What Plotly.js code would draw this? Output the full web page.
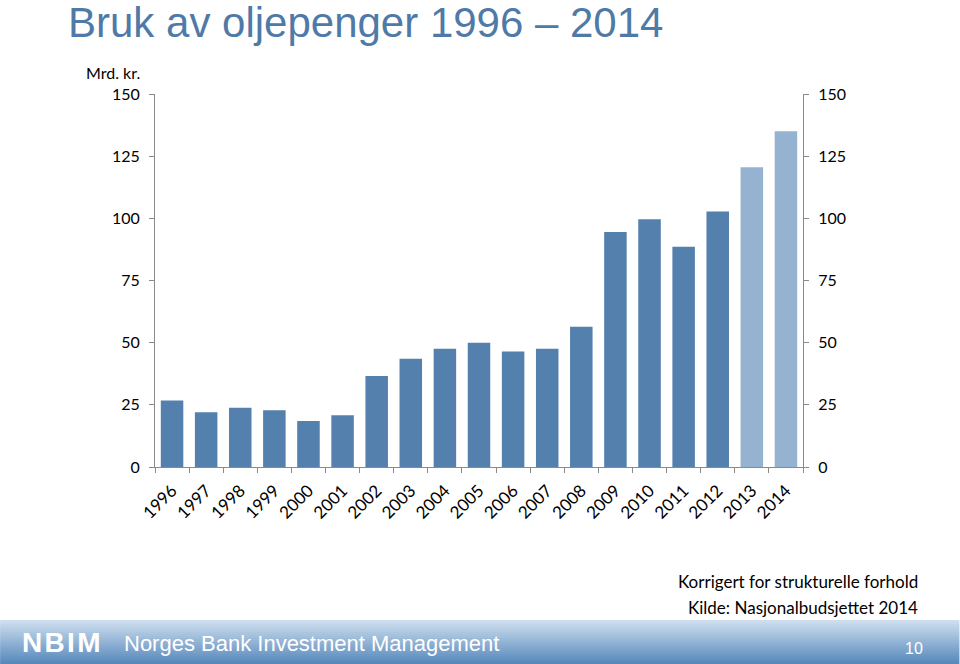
<!DOCTYPE html>
<html>
<head>
<meta charset="utf-8">
<script src="https://cdn.plot.ly/plotly-3.0.1.min.js"></script>
<style>
  html, body { margin: 0; padding: 0; background: #fff; }
  #graph { width: 960px; height: 664px; }
</style>
</head>
<body>
<div id="graph"></div>
<script>
// oil money spending, bn NOK (structurally adjusted)
const years = ['1996', '1997', '1998', '1999', '2000', '2001', '2002', '2003', '2004', '2005',
               '2006', '2007', '2008', '2009', '2010', '2011', '2012', '2013', '2014'];
const spending = [26.7, 22.0, 23.8, 22.8, 18.5, 20.8, 36.6, 43.5, 47.6, 50.0,
                  46.4, 47.6, 56.4, 94.5, 99.6, 88.6, 102.7, 120.5, 135.0];
const estimateYears = ['2013', '2014'];
const yTicks = [0, 25, 50, 75, 100, 125, 150];

const darkBlue = '#5380ac';
const lightBlue = '#95b3d0';
const axisGrey = '#8a8a8a';
const labelFont = 'Lato, "Open Sans", sans-serif';

// plot area in pixels
const plotL = 155, plotR = 803.5, plotT = 94, plotB = 467;
const W = 960, H = 664;
function px(x) { return (x - plotL) / (plotR - plotL); }
function py(y) { return (plotB - y) / (plotB - plotT); }

const barColors = years.map(y => estimateYears.includes(y) ? lightBlue : darkBlue);

const bars = {
    x: years,
    y: spending,
    type: 'bar',
    marker: { color: barColors, line: { width: 0 } },
    hoverinfo: 'x+y',
    showlegend: false
};
// invisible copy so the right axis gets drawn
const rightAxisTrace = {
    x: years,
    y: spending,
    yaxis: 'y2',
    type: 'scatter',
    mode: 'markers',
    marker: { opacity: 0 },
    hoverinfo: 'skip',
    showlegend: false
};

// footer band, faked gradient with thin strips
const shapes = [];
const bandTop = 620, steps = 22;
const c0 = [206, 222, 238], c1 = [88, 137, 187];
for (let i = 0; i < steps; i++) {
    const t = i / (steps - 1);
    const col = c0.map((v, k) => Math.round(v + (c1[k] - v) * t));
    const y0 = bandTop + (H - bandTop) * i / steps;
    const y1 = bandTop + (H - bandTop) * (i + 1) / steps + 0.5;
    shapes.push({
        type: 'rect', xref: 'paper', yref: 'paper',
        x0: px(0), x1: px(W), y0: py(y1), y1: py(y0),
        fillcolor: 'rgb(' + col.join(',') + ')',
        line: { width: 0 }
    });
}

const annotations = [
    {
        text: 'Bruk av oljepenger 1996 \u2013 2014',
        xref: 'paper', yref: 'paper', x: px(66), y: py(22),
        xanchor: 'left', yanchor: 'middle', showarrow: false,
        font: { family: '"Liberation Sans", Arial, sans-serif', size: 42, color: '#4f7aa8' }
    },
    {
        text: 'Mrd. kr.',
        xref: 'paper', yref: 'paper', x: px(84), y: py(73),
        xanchor: 'left', yanchor: 'middle', showarrow: false,
        font: { family: labelFont, size: 16, color: '#000' }
    },
    {
        text: 'Korrigert for strukturelle forhold',
        xref: 'paper', yref: 'paper', x: px(921), y: py(581),
        xanchor: 'right', yanchor: 'middle', showarrow: false,
        font: { family: labelFont, size: 17, color: '#000' }
    },
    {
        text: 'Kilde: Nasjonalbudsjettet 2014',
        xref: 'paper', yref: 'paper', x: px(921), y: py(607),
        xanchor: 'right', yanchor: 'middle', showarrow: false,
        font: { family: labelFont, size: 17, color: '#000' }
    },
    {
        text: '<b>N\u200aB\u200aI\u200aM</b>',
        xref: 'paper', yref: 'paper', x: px(20), y: py(642),
        xanchor: 'left', yanchor: 'middle', showarrow: false,
        font: { family: '"Liberation Sans", Arial, sans-serif', size: 28, color: '#fff' }
    },
    {
        text: 'Norges Bank Investment Management',
        xref: 'paper', yref: 'paper', x: px(122), y: py(643),
        xanchor: 'left', yanchor: 'middle', showarrow: false,
        font: { family: '"Liberation Sans", Arial, sans-serif', size: 22, color: '#fff' }
    },
    {
        text: '10',
        xref: 'paper', yref: 'paper', x: px(915), y: py(648),
        xanchor: 'center', yanchor: 'middle', showarrow: false,
        font: { family: '"Liberation Sans", Arial, sans-serif', size: 16, color: '#fff' }
    }
];

const yAxisCommon = {
    range: [0, 150],
    tickvals: yTicks,
    ticks: 'outside',
    ticklen: 5,
    tickcolor: axisGrey,
    showline: true,
    linecolor: axisGrey,
    linewidth: 1,
    showgrid: false,
    zeroline: false,
    fixedrange: true,
    ticklabelstandoff: 6,
    tickfont: { family: labelFont, size: 16, color: '#000' }
};

const layout = {
    width: W,
    height: H,
    autosize: false,
    margin: { l: plotL, r: W - plotR, t: plotT, b: H - plotB, pad: 0 },
    paper_bgcolor: '#fff',
    plot_bgcolor: '#fff',
    bargap: 0.34,
    showlegend: false,
    xaxis: {
        type: 'category',
        range: [-0.5, years.length - 0.5],
        ticks: 'outside',
        tickson: 'boundaries',
        ticklen: 5,
        tickcolor: axisGrey,
        showline: true,
        linecolor: axisGrey,
        linewidth: 1,
        showgrid: false,
        tickangle: -45,
        ticklabelstandoff: 6,
        fixedrange: true,
        tickfont: { family: labelFont, size: 17, color: '#000' }
    },
    yaxis: Object.assign({}, yAxisCommon, { side: 'left' }),
    yaxis2: Object.assign({}, yAxisCommon, { side: 'right', overlaying: 'y' }),
    shapes: shapes,
    annotations: annotations
};

Plotly.newPlot('graph', [bars, rightAxisTrace], layout, { displayModeBar: false, staticPlot: true });
</script>
</body>
</html>
